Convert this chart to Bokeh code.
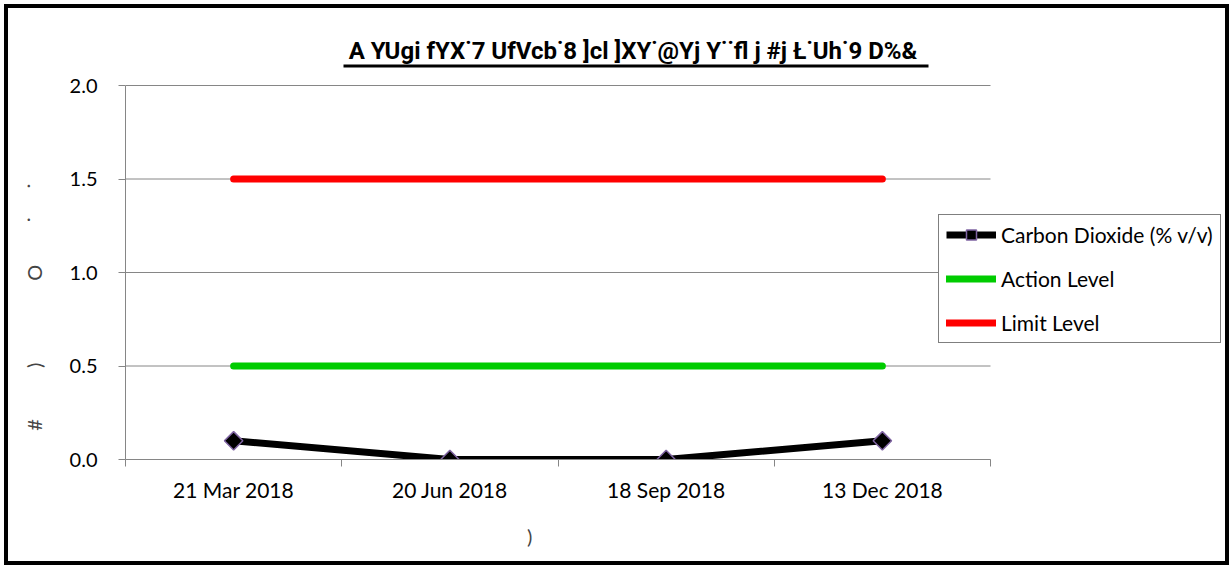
from bokeh.plotting import figure
from bokeh.models import (Range1d, FixedTicker, NumeralTickFormatter, Legend,
                          LegendItem, Label, BoxAnnotation)
from bokeh.embed import file_html
from bokeh.resources import INLINE
import math

# ---- data ----
dates = ["21 Mar 2018", "20 Jun 2018", "18 Sep 2018", "13 Dec 2018"]
co2 = [0.1, 0.0, 0.0, 0.1]
action_level = [0.5, 0.5, 0.5, 0.5]
limit_level = [1.5, 1.5, 1.5, 1.5]
y_ticks = [0.0, 0.5, 1.0, 1.5, 2.0]
y_max_tick = 2.0
title_text = "A YUgi fYX\u02d97 UfVcb\u02d98 ]cl ]XY\u02d9@Yj Y\u02d9\u02d9fl  j #j \u0141\u02d9Uh\u02d99 D%&"

n = len(dates)
xs = [i + 0.5 for i in range(n)]
NB = "\u00a0"
y_label = "#" + NB * 10 + ")" + NB * 16 + "O" + NB * 8 + "\u02d9" + NB * 5 + "\u02d9" + NB * 24
x_label = ")" + NB * 57

GRAY = "#868686"
FONT = "Lato"

# layout (pixels)
W, H = 1229, 565
F_LEFT, F_RIGHT, F_TOP, F_BOTTOM = 125, 1225, 30, 459
AX_RIGHT_PX, AX_TOP_PX = 990, 85
px_per_x = (AX_RIGHT_PX - F_LEFT) / n
px_per_y = (F_BOTTOM - AX_TOP_PX) / y_max_tick

p = figure(width=W, height=H, output_backend="svg", toolbar_location=None,
           x_range=Range1d(0, (F_RIGHT - F_LEFT) / px_per_x),
           y_range=Range1d(0, (F_BOTTOM - F_TOP) / px_per_y),
           min_border_left=F_LEFT, min_border_right=W - F_RIGHT,
           min_border_top=F_TOP, min_border_bottom=H - F_BOTTOM)
# chart-area border (drawn by the host element behind a transparent canvas)
p.styles = {"box-shadow": "inset 4px 4px 0 0 #fff, inset 8px 8px 0 0 #000, inset -4px -4px 0 0 #000",
            "background-color": "#fff"}
p.background_fill_alpha = 0
p.border_fill_alpha = 0
p.outline_line_color = None
p.xgrid.visible = False
p.ygrid.visible = False

# horizontal gridlines across the category span
p.segment(x0=[0] * len(y_ticks), x1=[n] * len(y_ticks), y0=y_ticks, y1=y_ticks,
          line_color=GRAY, line_width=1)

# x axis
p.xaxis.bounds = (0, n)
p.xaxis.ticker = FixedTicker(ticks=xs, minor_ticks=list(range(n + 1)))
p.xaxis.major_label_overrides = {x: d for x, d in zip(xs, dates)}
p.xaxis.major_tick_out = 0
p.xaxis.major_tick_in = 0
p.xaxis.minor_tick_out = 7
p.xaxis.minor_tick_in = 0
p.xaxis.minor_tick_line_color = GRAY
p.xaxis.axis_line_color = GRAY
p.xaxis.major_label_standoff = 10
p.xaxis.major_label_text_font = FONT
p.xaxis.major_label_text_font_size = "21px"
p.xaxis.major_label_text_color = "black"
p.xaxis.axis_label = x_label
p.xaxis.axis_label_text_font = FONT
p.xaxis.axis_label_text_font_size = "20px"
p.xaxis.axis_label_text_font_style = "normal"
p.xaxis.axis_label_standoff = 19

# y axis
p.yaxis.bounds = (0, y_max_tick)
p.yaxis.ticker = FixedTicker(ticks=y_ticks)
p.yaxis.formatter = NumeralTickFormatter(format="0.0")
p.yaxis.major_tick_out = 7
p.yaxis.major_tick_in = 0
p.yaxis.minor_tick_line_color = None
p.yaxis.major_tick_line_color = GRAY
p.yaxis.axis_line_color = GRAY
p.yaxis.major_label_standoff = 21
p.yaxis.major_label_text_font = FONT
p.yaxis.major_label_text_font_size = "20px"
p.yaxis.major_label_text_color = "black"
p.yaxis.axis_label = y_label
p.yaxis.axis_label_text_font = FONT
p.yaxis.axis_label_text_font_size = "20px"
p.yaxis.axis_label_text_font_style = "normal"
p.yaxis.axis_label_standoff = 21

# series
r_limit = p.line(xs, limit_level, line_color="#FF0000", line_width=7, line_cap="round")
r_action = p.line(xs, action_level, line_color="#00CC00", line_width=7, line_cap="round")
r_co2 = p.line(xs, co2, line_color="black", line_width=7)
r_co2m = p.scatter(xs, co2, marker="square", angle=math.pi / 4, size=13,
                   fill_color="black", line_color="#7F64A2", line_width=1.5)

legend = Legend(items=[
    LegendItem(label="Carbon Dioxide (% v/v)", renderers=[r_co2, r_co2m]),
    LegendItem(label="Action Level", renderers=[r_action]),
    LegendItem(label="Limit Level", renderers=[r_limit]),
], location=(938 - F_LEFT, F_BOTTOM - 343))
legend.glyph_width = 50
legend.glyph_height = 25
legend.label_height = 25
legend.label_standoff = 5
legend.spacing = 19
legend.padding = 7
legend.margin = 0
legend.border_line_color = "black"
legend.border_line_width = 1.5
legend.background_fill_color = "white"
legend.background_fill_alpha = 1
legend.label_text_font = FONT
legend.label_text_font_size = "21px"
legend.label_text_color = "black"
p.add_layout(legend)

# title with underline
title = Label(x=(635.5 - F_LEFT) / px_per_x, y=y_max_tick, y_offset=35, text=title_text,
              text_align="center", text_baseline="middle",
              text_font="Roboto", text_font_style="bold",
              text_font_size="24px", text_color="black")
p.add_layout(title)
underline = BoxAnnotation(left=(343 - F_LEFT) / px_per_x, right=(928 - F_LEFT) / px_per_x,
                          bottom=y_max_tick + (AX_TOP_PX - 67) / px_per_y,
                          top=y_max_tick + (AX_TOP_PX - 64) / px_per_y,
                          fill_color="black", fill_alpha=1, line_color=None)
p.add_layout(underline)

open("out.html", "w").write(file_html(p, INLINE))
